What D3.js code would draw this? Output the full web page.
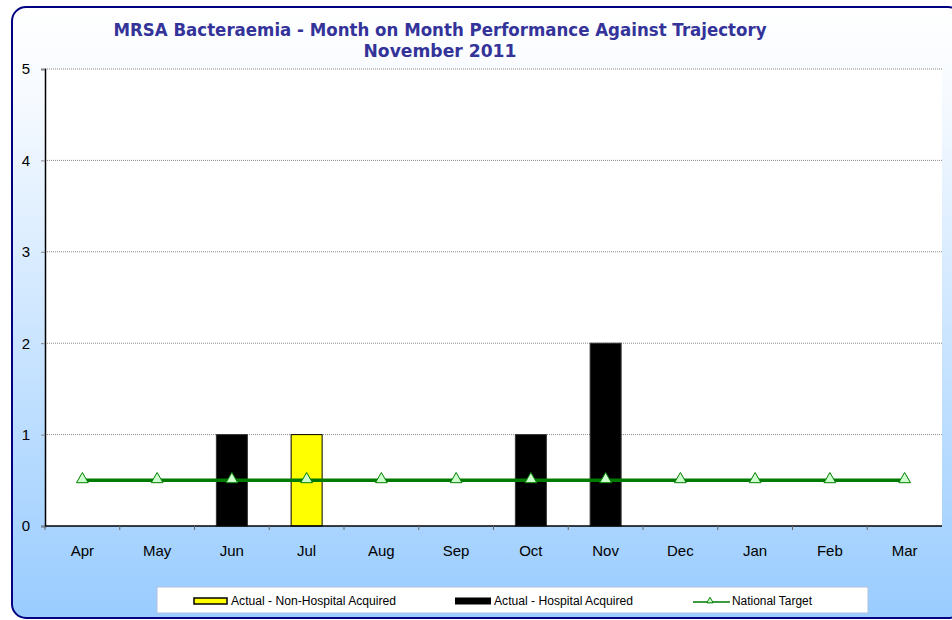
<!DOCTYPE html>
<html>
<head>
<meta charset="utf-8">
<script src="https://cdn.jsdelivr.net/npm/d3@7"></script>
<style>
  body { margin: 0; background: #fff; }
  svg { display: block; }
</style>
</head>
<body>
<div id="chart"></div>
<script>
// Данные
const months = ["Apr", "May", "Jun", "Jul", "Aug", "Sep", "Oct", "Nov", "Dec", "Jan", "Feb", "Mar"];
const nonHospital = [0, 0, 0, 1, 0, 0, 0, 0, 0, 0, 0, 0];
const hospital = [0, 0, 1, 0, 0, 0, 1, 2, 0, 0, 0, 0];
const target = [0.5, 0.5, 0.5, 0.5, 0.5, 0.5, 0.5, 0.5, 0.5, 0.5, 0.5, 0.5];
const yTicks = [0, 1, 2, 3, 4, 5];
const legendLabels = ["Actual - Non-Hospital Acquired", "Actual - Hospital Acquired", "National Target"];

const width = 952;
const height = 620;
const plot = { left: 45, right: 942, top: 69, bottom: 526 };
const font = "Arial, 'Liberation Sans', sans-serif";

const svg = d3.select("#chart").append("svg")
    .attr("width", width)
    .attr("height", height);

// Градиент фона
const defs = svg.append("defs");
const grad = defs.append("linearGradient")
    .attr("id", "bg")
    .attr("x1", 0).attr("y1", 0).attr("x2", 0).attr("y2", 1);
grad.append("stop").attr("offset", "0%").attr("stop-color", "#ffffff");
grad.append("stop").attr("offset", "15%").attr("stop-color", "#f6faff");
grad.append("stop").attr("offset", "100%").attr("stop-color", "#99ccff");

svg.append("rect")
    .attr("x", 12).attr("y", 7)
    .attr("width", 950).attr("height", 611)
    .attr("rx", 14)
    .attr("fill", "url(#bg)")
    .attr("stroke", "#000080")
    .attr("stroke-width", 2);

// Область построения
svg.append("rect")
    .attr("x", plot.left).attr("y", plot.top)
    .attr("width", plot.right - plot.left)
    .attr("height", plot.bottom - plot.top)
    .attr("fill", "#ffffff");

// Шкалы
const xScale = d3.scaleBand()
    .domain(months)
    .range([plot.left, plot.right]);

const yScale = d3.scaleLinear()
    .domain([0, 5])
    .range([plot.bottom, plot.top]);

// Линии сетки
svg.selectAll(".grid")
    .data(yTicks.filter(d => d > 0))
    .enter()
    .append("line")
    .attr("x1", plot.left)
    .attr("x2", plot.right)
    .attr("y1", d => yScale(d))
    .attr("y2", d => yScale(d))
    .attr("stroke", "#888")
    .attr("stroke-width", 1)
    .attr("stroke-dasharray", "1,1");

// Столбцы (стек)
const barW = 31;
const series = [
    { values: hospital, fill: "#000000", stroke: "#333" },
    { values: nonHospital, fill: "#ffff00", stroke: "#000" }
];
const base = months.map(() => 0);
series.forEach(s => {
    months.forEach((m, i) => {
        const v = s.values[i];
        if (v > 0) {
            svg.append("rect")
                .attr("x", xScale(m) + xScale.bandwidth() / 2 - barW / 2)
                .attr("y", yScale(base[i] + v))
                .attr("width", barW)
                .attr("height", yScale(base[i]) - yScale(base[i] + v))
                .attr("fill", s.fill)
                .attr("stroke", s.stroke)
                .attr("stroke-width", 1);
            base[i] += v;
        }
    });
});

// Оси
const yAxis = d3.axisLeft(yScale).tickValues(yTicks).tickSize(4).tickFormat(d3.format("d"));
const gy = svg.append("g")
    .attr("transform", `translate(${plot.left},0)`)
    .call(yAxis);
gy.select(".domain").attr("stroke", "#000").attr("stroke-width", 1.5);
gy.selectAll(".tick line").attr("stroke", "#888");
gy.selectAll(".tick text")
    .attr("x", -19)
    .attr("text-anchor", "middle")
    .style("font-family", font)
    .style("font-size", "15px")
    .attr("fill", "#000");

svg.append("line")
    .attr("x1", plot.left).attr("x2", plot.right)
    .attr("y1", plot.bottom).attr("y2", plot.bottom)
    .attr("stroke", "#000").attr("stroke-width", 1.5);

// Деления оси X на границах категорий
svg.selectAll(".xtick")
    .data(months)
    .enter()
    .append("line")
    .attr("x1", d => xScale(d))
    .attr("x2", d => xScale(d))
    .attr("y1", plot.bottom)
    .attr("y2", plot.bottom + 4)
    .attr("stroke", "#666");

svg.selectAll(".xlabel")
    .data(months)
    .enter()
    .append("text")
    .attr("x", d => xScale(d) + xScale.bandwidth() / 2)
    .attr("y", plot.bottom + 30)
    .attr("text-anchor", "middle")
    .style("font-family", font)
    .style("font-size", "15px")
    .text(d => d);

// Линия цели
const line = d3.line()
    .x((d, i) => xScale(months[i]) + xScale.bandwidth() / 2)
    .y(d => yScale(d));

svg.append("path")
    .datum(target)
    .attr("d", line)
    .attr("fill", "none")
    .attr("stroke", "#007a00")
    .attr("stroke-width", 3.5);

const tri = d3.symbol().type(d3.symbolTriangle).size(60);
svg.selectAll(".marker")
    .data(target)
    .enter()
    .append("path")
    .attr("d", tri)
    .attr("transform", (d, i) => `translate(${xScale(months[i]) + xScale.bandwidth() / 2},${yScale(d) - 1})`)
    .attr("fill", "#ccffcc")
    .attr("stroke", "#008000")
    .attr("stroke-width", 1);

// Заголовок
const titleLines = [
    { text: "MRSA Bacteraemia - Month on Month Performance Against Trajectory", len: 653 },
    { text: "November 2011", len: 153 }
];
titleLines.forEach((t, i) => {
    svg.append("text")
        .attr("x", 440)
        .attr("y", 36 + i * 21)
        .attr("text-anchor", "middle")
        .attr("textLength", t.len)
        .attr("lengthAdjust", "spacingAndGlyphs")
        .style("font-family", "'DejaVu Sans', Verdana, sans-serif")
        .style("font-weight", "bold")
        .style("font-size", "17px")
        .attr("fill", "#333399")
        .text(t.text);
});

// Легенда
svg.append("rect")
    .attr("x", 157).attr("y", 587)
    .attr("width", 711).attr("height", 26)
    .attr("fill", "#ffffff")
    .attr("stroke", "#b0c0e0")
    .attr("stroke-width", 1);

const ly = 601;
const legendText = [
    { x: 231, len: 165 },
    { x: 494, len: 139 },
    { x: 732, len: 80 }
];
legendLabels.forEach((label, i) => {
    svg.append("text")
        .attr("x", legendText[i].x).attr("y", ly + 4)
        .attr("textLength", legendText[i].len)
        .attr("lengthAdjust", "spacingAndGlyphs")
        .style("font-family", font).style("font-size", "12px")
        .text(label);
});

svg.append("rect")
    .attr("x", 194).attr("y", ly - 3)
    .attr("width", 33).attr("height", 6)
    .attr("fill", "#ffff00").attr("stroke", "#000").attr("stroke-width", 1.5);

svg.append("rect")
    .attr("x", 455).attr("y", ly - 3.5)
    .attr("width", 36).attr("height", 7)
    .attr("fill", "#000");

svg.append("line")
    .attr("x1", 693).attr("x2", 730)
    .attr("y1", ly + 1).attr("y2", ly + 1)
    .attr("stroke", "#007a00").attr("stroke-width", 1.5);
svg.append("path")
    .attr("d", d3.symbol().type(d3.symbolTriangle).size(18))
    .attr("transform", `translate(710,${ly})`)
    .attr("fill", "#ccffcc").attr("stroke", "#008000");
</script>
</body>
</html>
